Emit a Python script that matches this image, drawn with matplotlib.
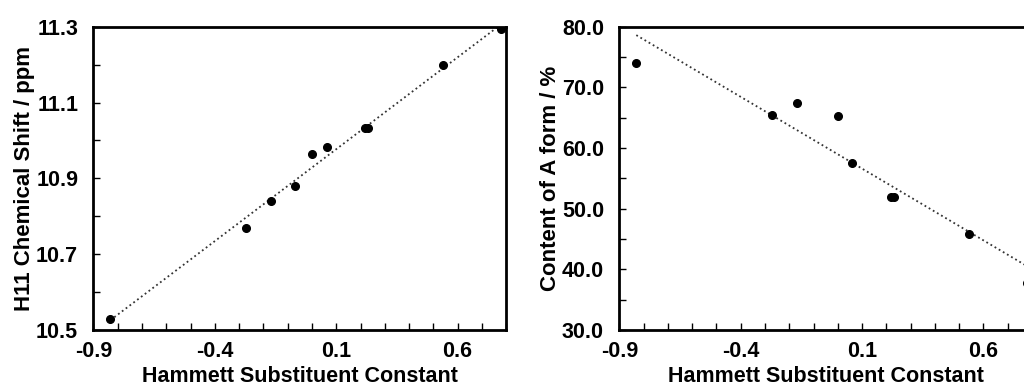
import numpy as np
import matplotlib
matplotlib.use("Agg")
import matplotlib.pyplot as plt
from matplotlib.ticker import MultipleLocator

plt.rcParams["font.family"] = ["Liberation Sans", "DejaVu Sans"]
plt.rcParams["font.weight"] = "bold"

# Hammett constants and measured values
sigma_left = [-0.83, -0.27, -0.17, -0.07, 0.0, 0.06, 0.22, 0.23, 0.54, 0.78]
shift_h11 = [10.53, 10.77, 10.84, 10.88, 10.963, 10.982, 11.032, 11.032, 11.20, 11.293]

sigma_right = [-0.83, -0.27, -0.17, 0.0, 0.06, 0.22, 0.23, 0.54, 0.78]
content_a = [74.0, 65.5, 67.45, 65.35, 57.5, 52.0, 52.0, 45.9, 37.8]

xticks = [-0.9, -0.4, 0.1, 0.6]
yticks_left = [10.5, 10.7, 10.9, 11.1, 11.3]
yticks_right = [30.0, 40.0, 50.0, 60.0, 70.0, 80.0]

fig = plt.figure(figsize=(10.24, 3.9), dpi=100)
ax1 = fig.add_axes([0.0913, 0.1538, 0.403, 0.7778])
ax2 = fig.add_axes([0.6048, 0.1538, 0.403, 0.7778])


def style(ax, x, y, yticks, yminor, ylabel):
    x = np.array(x)
    y = np.array(y)
    k, b = np.polyfit(x, y, 1)
    xs = np.array([x.min(), x.max()])
    ax.plot(xs, k * xs + b, ls=":", color="#333333", lw=1.3, zorder=2)
    ax.plot(x, y, "o", color="black", ms=5.5, zorder=3)
    ax.set_xlim(-0.9, 0.8)
    ax.set_ylim(yticks[0], yticks[-1])
    ax.set_xticks(xticks)
    ax.set_xticklabels([f"{t:.1f}" for t in xticks])
    ax.set_yticks(yticks)
    ax.set_yticklabels([f"{t:.1f}" for t in yticks])
    ax.xaxis.set_minor_locator(MultipleLocator(0.1))
    ax.yaxis.set_minor_locator(MultipleLocator(yminor))
    ax.tick_params(which="both", direction="in", length=5, width=1,
                   top=False, right=False, labelsize=15.5)
    ax.tick_params(axis="x", which="major", pad=8)
    ax.tick_params(axis="y", which="major", pad=11)
    for s in ax.spines.values():
        s.set_linewidth(2)
    ax.set_xlabel("Hammett Substituent Constant", fontsize=15.5,
                  fontweight="bold", labelpad=3)
    ax.set_ylabel(ylabel, fontsize=16, fontweight="bold", labelpad=1)


style(ax1, sigma_left, shift_h11, yticks_left, 0.1, "H11 Chemical Shift / ppm")
style(ax2, sigma_right, content_a, yticks_right, 5, "Content of A form / %")

fig.savefig("out.png", dpi=100)
